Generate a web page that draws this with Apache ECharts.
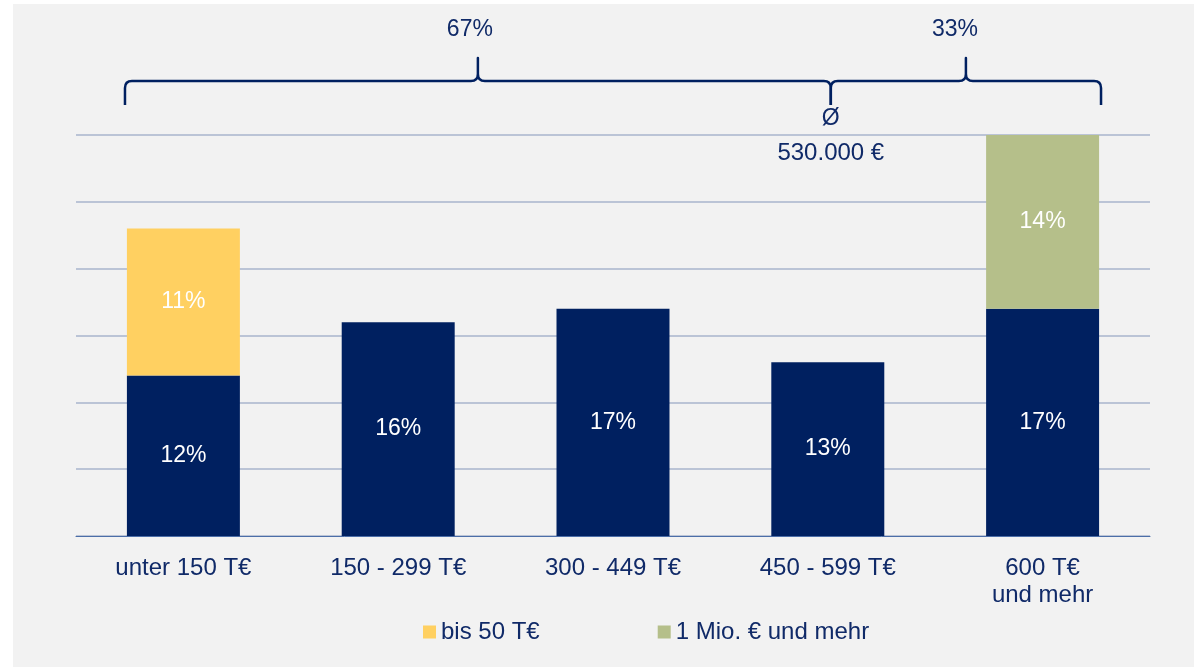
<!DOCTYPE html>
<html>
<head>
<meta charset="utf-8">
<script src="https://cdn.jsdelivr.net/npm/echarts@6/dist/echarts.min.js"></script>
<style>
  html, body { margin: 0; padding: 0; background: #ffffff; }
  #chart { position: absolute; left: 13px; top: 4px; width: 1181px; height: 663px; }
</style>
</head>
<body>
<div id="chart"></div>
<script>
// data
const categories = ['unter 150 T€', '150 - 299 T€', '300 - 449 T€', '450 - 599 T€', '600 T€\nund mehr']
const baseShare = [12, 16, 17, 13, 17]
const smallShare = [11, null, null, null, null]   // bis 50 T€
const bigShare = [null, null, null, null, 14]     // 1 Mio. € und mehr
const groupLabels = ['67%', '33%']
const avgLabel = ['Ø', '530.000 €']
const avgCategory = 3

const NAVY = '#002060'
const TEXT = '#102a68'
const FONT = '"Liberation Sans", Arial, sans-serif'

const chart = echarts.init(document.getElementById('chart'))

const barLabel = {
  show: true,
  position: 'inside',
  color: '#ffffff',
  fontSize: 23,
  fontFamily: FONT,
  formatter: p => (p.value == null ? '' : p.value + '%')
}

// curly brace between x0 and x1, tip pointing up
function bracePath(x0, x1, yb, ym, yt, r) {
  const xc = (x0 + x1) / 2
  return 'M' + x0 + ' ' + yb +
    ' L' + x0 + ' ' + (ym + r) +
    ' Q' + x0 + ' ' + ym + ' ' + (x0 + r) + ' ' + ym +
    ' L' + (xc - r) + ' ' + ym +
    ' Q' + xc + ' ' + ym + ' ' + xc + ' ' + (ym - r) +
    ' L' + xc + ' ' + yt +
    ' L' + xc + ' ' + (ym - r) +
    ' Q' + xc + ' ' + ym + ' ' + (xc + r) + ' ' + ym +
    ' L' + (x1 - r) + ' ' + ym +
    ' Q' + x1 + ' ' + ym + ' ' + x1 + ' ' + (ym + r) +
    ' L' + x1 + ' ' + yb
}

function renderBraces(params, api) {
  const band = api.size([1, 0])[0]
  const xStart = api.coord([0, 0])[0] - band * 0.272
  const xMid = api.coord([avgCategory, 0])[0] + 3
  const xEnd = api.coord([categories.length - 1, 0])[0] + band * 0.272
  const yb = 101, ym = 77, yt = 54
  const braceStyle = { stroke: NAVY, lineWidth: 2.5, fill: null, lineJoin: 'round' }
  const txt = (text, x, y, size) => ({
    type: 'text', x: x, y: y,
    style: { text: text, fill: TEXT, fontSize: size, fontFamily: FONT, align: 'center', verticalAlign: 'middle' }
  })
  return {
    type: 'group',
    children: [
      { type: 'path', shape: { pathData: bracePath(xStart, xMid, yb, ym, yt, 7) }, style: braceStyle },
      { type: 'path', shape: { pathData: bracePath(xMid, xEnd, yb, ym, yt, 7) }, style: braceStyle },
      txt(groupLabels[0], (xStart + xMid) / 2 - 8, 26, 23),
      txt(groupLabels[1], (xMid + xEnd) / 2 - 11, 26, 23),
      txt(avgLabel[0], xMid, 115, 23),
      txt(avgLabel[1], xMid, 149, 24)
    ]
  }
}

chart.setOption({
  backgroundColor: '#f2f2f2',
  animation: false,
  textStyle: { fontFamily: FONT },
  grid: { left: 63, right: 44, top: 131, bottom: 131 },
  legend: {
    data: ['bis 50 T€', '1 Mio. € und mehr'],
    left: 405,
    top: 611,
    icon: 'rect',
    itemWidth: 13,
    itemHeight: 13,
    itemGap: 118,
    textStyle: { color: TEXT, fontSize: 24, fontFamily: FONT }
  },
  xAxis: {
    type: 'category',
    data: categories,
    axisLine: { lineStyle: { color: '#4c6ea8', width: 1 } },
    axisTick: { show: false },
    axisLabel: { color: TEXT, fontSize: 24, fontFamily: FONT, margin: 19, lineHeight: 27, interval: 0 }
  },
  yAxis: {
    type: 'value',
    min: 0,
    max: 30,
    interval: 5,
    axisLabel: { show: false },
    axisLine: { show: false },
    axisTick: { show: false },
    splitLine: { lineStyle: { color: '#a9b4cc', width: 1.5 } }
  },
  series: [
    { name: 'Basis', type: 'bar', stack: 'a', barWidth: '52.6%', data: baseShare,
      itemStyle: { color: NAVY }, label: barLabel },
    { name: 'bis 50 T€', type: 'bar', stack: 'a', data: smallShare,
      itemStyle: { color: '#ffd061' }, label: barLabel },
    { name: '1 Mio. € und mehr', type: 'bar', stack: 'a', data: bigShare,
      itemStyle: { color: '#b5bf8a' }, label: barLabel },
    { name: 'Klammern', type: 'custom', data: [[0, 0]], renderItem: renderBraces,
      clip: false, silent: true, z: 5 }
  ]
})
</script>
</body>
</html>
